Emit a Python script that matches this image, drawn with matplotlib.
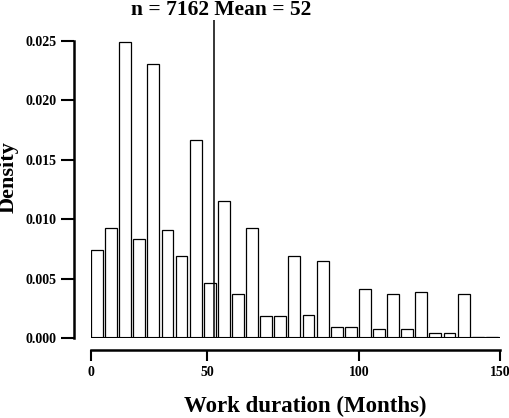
import numpy as np
import matplotlib
matplotlib.use('Agg')
import matplotlib.pyplot as plt

# histogram of work duration, 29 bins of 5 months
bin_left = np.arange(0, 145, 5)
density = [0.00738, 0.00923, 0.02494, 0.00831, 0.02309, 0.00907, 0.00688, 0.01664,
           0.00460, 0.01151, 0.00368, 0.00923, 0.00183, 0.00183, 0.00690, 0.00191,
           0.00646, 0.00090, 0.00090, 0.00412, 0.00073, 0.00368, 0.00073, 0.00385,
           0.00042, 0.00042, 0.00368, 0.00005, 0.00005]
n_obs = 7162
mean_val = 52
xtick_vals = [0, 50, 100, 150]
ytick_vals = [0.000, 0.005, 0.010, 0.015, 0.020, 0.025]
# axis labels of the figure are not linear in the bar positions
axis_months = [0, 50, 100, 150]
bar_months = [0, 41.3, 95.0, 145]

plt.rcParams['font.family'] = ['Liberation Serif', 'DejaVu Serif']
plt.rcParams['font.weight'] = 'bold'

W, H = 510, 418
fig = plt.figure(figsize=(W / 100, H / 100), dpi=100)
ax = fig.add_axes([91 / W, (H - 338) / H, 409 / W, 318.5 / H])

bw = 5
ax.bar(bin_left, density, width=bw * 0.84, align='edge', color='white',
       edgecolor='black', linewidth=0.9, zorder=2)
ax.hlines(0, bin_left[0], bin_left[-1] + bw, color='black', linewidth=1.5, zorder=3)

def to_axis(x):
    return np.interp(x, bar_months, axis_months)

def to_bar(x):
    return np.interp(x, axis_months, bar_months)

ax.axvline(to_bar(mean_val), color='black', linewidth=1.1, zorder=3)

ax.set_xlim(0, 145)
ax.set_ylim(0, 0.0268)

for s in ['top', 'right', 'bottom']:
    ax.spines[s].set_visible(False)
ax.spines['left'].set_position(('outward', 12))
ax.spines['left'].set_bounds(0, 0.025)
ax.spines['left'].set_linewidth(1.8)
ax.set_xticks([])
ax.set_yticks(ytick_vals)
ax.set_yticklabels(['%.3f' % v for v in ytick_vals])
ax.tick_params(axis='y', direction='out', length=9.5, width=1.5, pad=3, labelsize=10)

secax = ax.secondary_xaxis(-11.5 / 318.5, functions=(to_axis, to_bar))
secax.spines['bottom'].set_bounds(0, 150)
secax.spines['bottom'].set_linewidth(1.8)
secax.set_xticks(xtick_vals)
secax.tick_params(axis='x', direction='out', length=8, width=1.5, pad=4, labelsize=10)

fig.text(221 / W, 1 - 0 / H, 'n = %d Mean = %d' % (n_obs, mean_val), ha='center', va='top',
         fontsize=15.5, fontweight='bold')
fig.text(305 / W, 1 - 406 / H, 'Work duration (Months)', ha='center', va='center',
         fontsize=16.5, fontweight='bold')
fig.text(9 / W, 1 - 177 / H, 'Density', ha='center', va='center', rotation=90,
         fontsize=16, fontweight='bold')

fig.savefig('out.png', dpi=100)
